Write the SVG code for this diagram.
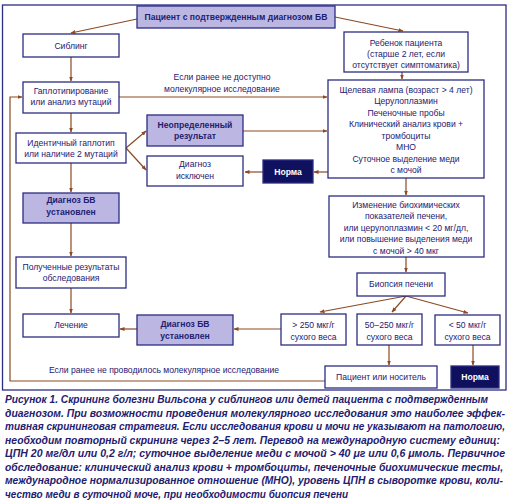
<svg xmlns="http://www.w3.org/2000/svg" width="510" height="501" viewBox="0 0 510 501">
<style>
.box{fill:#ffffff;stroke:#2b2d82;stroke-width:1.3}
.lav{fill:#bcb7e2;stroke:#2b2d82;stroke-width:1.3}
.dark{fill:#0f105e;stroke:#2b2d82;stroke-width:1.3}
.t{font-family:"Liberation Sans",Arial,sans-serif;font-size:8.6px;fill:#1f2070;text-anchor:middle}
.b{font-weight:bold}
.w{fill:#ffffff;font-weight:bold}
.ln{fill:none;stroke:#8c4a22;stroke-width:1.2}
.cap{font-family:"Liberation Sans",Arial,sans-serif;font-size:10px;font-weight:bold;font-style:italic;fill:#1f2070}
</style>
<defs>
<marker id="ah" viewBox="0 0 10 10" refX="9" refY="5" markerWidth="5" markerHeight="5" orient="auto" markerUnits="userSpaceOnUse">
<path d="M0,1 L10,5 L0,9 z" fill="#8c4a22"/>
</marker>
</defs>
<rect x="2.5" y="5" width="503.5" height="385" fill="none" stroke="#2b2d82" stroke-width="1.3"/>

<g id="connectors">
<path class="ln" d="M137,19 L71,33" marker-end="url(#ah)"/>
<path class="ln" d="M335,17 L403,31" marker-end="url(#ah)"/>
<path class="ln" d="M71,57 L71,81" marker-end="url(#ah)"/>
<path class="ln" d="M119,97 L327,97" marker-end="url(#ah)"/>
<path class="ln" d="M402,72 L402,79" marker-end="url(#ah)"/>
<path class="ln" d="M71,113 L71,132" marker-end="url(#ah)"/>
<path class="ln" d="M126,148 L146,131" marker-end="url(#ah)"/>
<path class="ln" d="M126,148 L146,170" marker-end="url(#ah)"/>
<path class="ln" d="M243,131 L327,131" marker-end="url(#ah)"/>
<path class="ln" d="M328,172 L314,172" marker-end="url(#ah)"/>
<path class="ln" d="M263,172 L245,172" marker-end="url(#ah)"/>
<path class="ln" d="M71,163 L71,192" marker-end="url(#ah)"/>
<path class="ln" d="M71,223 L71,256" marker-end="url(#ah)"/>
<path class="ln" d="M71,288 L71,313" marker-end="url(#ah)"/>
<path class="ln" d="M137,329 L120,329" marker-end="url(#ah)"/>
<path class="ln" d="M281,329 L234,329" marker-end="url(#ah)"/>
<path class="ln" d="M406,178 L406,195" marker-end="url(#ah)"/>
<path class="ln" d="M406,257 L406,272" marker-end="url(#ah)"/>
<path class="ln" d="M406,296 L320,312" marker-end="url(#ah)"/>
<path class="ln" d="M406,296 L392,312" marker-end="url(#ah)"/>
<path class="ln" d="M406,296 L468,313" marker-end="url(#ah)"/>
<path class="ln" d="M389,345 L389,365" marker-end="url(#ah)"/>
<path class="ln" d="M473,345 L473,365" marker-end="url(#ah)"/>
<path class="ln" d="M325,381 L10,381 L10,97 L22,97" marker-end="url(#ah)"/>
<text class="t" x="222" y="80">Если ранее не доступно</text>
<text class="t" x="222" y="92">молекулярное исследование</text>
<text class="t" x="164" y="373">Если ранее не проводилось молекулярное исследование</text>
</g>

<g id="patient"><rect class="lav" x="137" y="6" width="198" height="22"/><text class="t b" x="236" y="20">Пациент с подтвержденным диагнозом БВ</text></g>
<g id="sibling"><rect class="box" x="23" y="34" width="96" height="23"/><text class="t" x="71" y="48.5">Сиблинг</text></g>
<g id="child"><rect class="box" x="344" y="32" width="124" height="40"/><text class="t" x="406" y="45.5">Ребенок пациента</text><text class="t" x="406" y="56.5">(старше 2 лет, если</text><text class="t" x="406" y="67.5">отсутствует симптоматика)</text></g>
<g id="haplo"><rect class="box" x="23" y="82" width="96" height="31"/><text class="t" x="71" y="93.5">Гаплотипирование</text><text class="t" x="71" y="105">или анализ мутаций</text></g>
<g id="tests"><rect class="box" x="328" y="80" width="156" height="98"/>
<text class="t" x="406" y="92.5">Щелевая лампа (возраст &gt; 4 лет)</text>
<text class="t" x="406" y="104">Церулоплазмин</text>
<text class="t" x="406" y="115.5">Печеночные пробы</text>
<text class="t" x="406" y="127">Клинический анализ крови +</text>
<text class="t" x="406" y="138.5">тромбоциты</text>
<text class="t" x="406" y="150">МНО</text>
<text class="t" x="406" y="161.5">Суточное выделение меди</text>
<text class="t" x="406" y="173">с мочой</text></g>
<g id="undetermined"><rect class="lav" x="147" y="115" width="96" height="31"/><text class="t b" x="195" y="128">Неопределенный</text><text class="t b" x="195" y="139">результат</text></g>
<g id="identical"><rect class="box" x="16" y="133" width="110" height="30"/><text class="t" x="71" y="145.5">Идентичный гаплотип</text><text class="t" x="71" y="156.5">или наличие 2 мутаций</text></g>
<g id="excluded"><rect class="box" x="147" y="156" width="96" height="30"/><text class="t" x="195" y="167">Диагноз</text><text class="t" x="195" y="178.5">исключен</text></g>
<g id="norm1"><rect class="dark" x="263" y="160" width="50" height="23"/><text class="t w" x="288" y="175">Норма</text></g>
<g id="dx1"><rect class="lav" x="23" y="193" width="96" height="30"/><text class="t b" x="71" y="203">Диагноз БВ</text><text class="t b" x="71" y="214.5">установлен</text></g>
<g id="changes"><rect class="box" x="329" y="196" width="155" height="61"/>
<text class="t" x="406" y="207.5">Изменение биохимических</text>
<text class="t" x="406" y="219">показателей печени,</text>
<text class="t" x="406" y="230.5">или церулоплазмин &lt; 20 мг/дл,</text>
<text class="t" x="406" y="242">или повышение выделения меди</text>
<text class="t" x="406" y="253.5">с мочой &gt; 40 мкг</text></g>
<g id="results"><rect class="box" x="16" y="257" width="110" height="31"/><text class="t" x="71" y="269.5">Полученные результаты</text><text class="t" x="71" y="281">обследования</text></g>
<g id="biopsy"><rect class="box" x="357" y="273" width="88" height="23"/><text class="t" x="401" y="287">Биопсия печени</text></g>
<g id="treatment"><rect class="box" x="23" y="314" width="96" height="23"/><text class="t" x="71" y="328">Лечение</text></g>
<g id="dx2"><rect class="lav" x="137" y="315" width="96" height="30"/><text class="t b" x="185" y="326.5">Диагноз БВ</text><text class="t b" x="185" y="339">установлен</text></g>
<g id="gt250"><rect class="box" x="281" y="314" width="65" height="31"/><text class="t" x="313.5" y="328">&gt; 250 мкг/г</text><text class="t" x="313.5" y="340">сухого веса</text></g>
<g id="mid"><rect class="box" x="357" y="314" width="65" height="31"/><text class="t" x="389.5" y="328">50–250 мкг/г</text><text class="t" x="389.5" y="340">сухого веса</text></g>
<g id="lt50"><rect class="box" x="435" y="315" width="65" height="30"/><text class="t" x="467.5" y="328">&lt; 50 мкг/г</text><text class="t" x="467.5" y="340">сухого веса</text></g>
<g id="carrier"><rect class="box" x="325" y="366" width="112" height="22"/><text class="t" x="381" y="380">Пациент или носитель</text></g>
<g id="norm2"><rect class="dark" x="451" y="366" width="48" height="22"/><text class="t w" x="475" y="380">Норма</text></g>

<g id="caption">
<text class="cap" x="5" y="403" textLength="483" lengthAdjust="spacingAndGlyphs">Рисунок 1. Скрининг болезни Вильсона у сиблингов или детей пациента с подтвержденным</text>
<text class="cap" x="5" y="416.5" textLength="500" lengthAdjust="spacingAndGlyphs">диагнозом. При возможности проведения молекулярного исследования это наиболее эффек-</text>
<text class="cap" x="5" y="430" textLength="500" lengthAdjust="spacingAndGlyphs">тивная скрининговая стратегия. Если исследования крови и мочи не указывают на патологию,</text>
<text class="cap" x="5" y="443.5" textLength="495" lengthAdjust="spacingAndGlyphs">необходим повторный скрининг через 2–5 лет. Перевод на международную систему единиц:</text>
<text class="cap" x="5" y="457" textLength="500" lengthAdjust="spacingAndGlyphs">ЦПН 20 мг/дл или 0,2 г/л; суточное выделение меди с мочой &gt; 40 μг или 0,6 μмоль. Первичное</text>
<text class="cap" x="5" y="470.5" textLength="498" lengthAdjust="spacingAndGlyphs">обследование: клинический анализ крови + тромбоциты, печеночные биохимические тесты,</text>
<text class="cap" x="5" y="484" textLength="498" lengthAdjust="spacingAndGlyphs">международное нормализированное отношение (МНО), уровень ЦПН в сыворотке крови, коли-</text>
<text class="cap" x="5" y="497.5" textLength="343" lengthAdjust="spacingAndGlyphs">чество меди в суточной моче, при необходимости биопсия печени</text>
</g>
</svg>
